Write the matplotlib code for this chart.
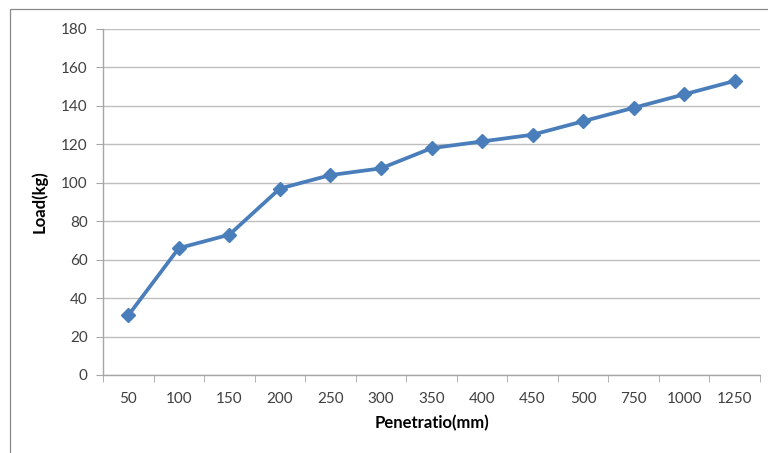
import matplotlib
matplotlib.use("Agg")
import matplotlib.pyplot as plt
from matplotlib.patches import Rectangle

# penetration categories (mm) and measured load (kg)
penetration = ["50", "100", "150", "200", "250", "300", "350",
               "400", "450", "500", "750", "1000", "1250"]
load = [31, 66, 73, 97, 104, 107.5, 118, 121.5, 125, 132, 139, 146, 153]

plt.rcParams["font.family"] = ["Lato", "DejaVu Sans"]

fig = plt.figure(figsize=(7.68, 4.53), dpi=100)
ax = fig.add_axes([103 / 768, 78 / 453, 657 / 768, 346 / 453])

# chart frame around everything
fig.patches.append(Rectangle((10 / 768, -0.1), 1.2, 1.1 - 9 / 453,
                             transform=fig.transFigure, fill=False,
                             edgecolor="#898989", linewidth=0.9))

x = range(len(penetration))
ax.plot(x, load, color="#4A7EBB", linewidth=2.7, marker="D",
        markersize=7.5, markeredgecolor="#4A7EBB", markerfacecolor="#4A7EBB",
        zorder=3)

ax.set_xlim(-0.5, len(penetration) - 0.5)
ax.set_ylim(0, 180)
ax.set_yticks(range(0, 181, 20))
ax.set_xticks(list(x))
ax.set_xticklabels(penetration)
ax.set_xticks([i - 0.5 for i in range(len(penetration) + 1)], minor=True)

ax.grid(axis="y", color="#BEBEBE", linewidth=1.0)
ax.set_axisbelow(True)
for side in ("top", "right"):
    ax.spines[side].set_visible(False)
for side in ("left", "bottom"):
    ax.spines[side].set_color("#A6A6A6")
    ax.spines[side].set_linewidth(1.0)

ax.tick_params(axis="x", which="major", length=0, pad=12,
               labelsize=11, labelcolor="#404040")
ax.tick_params(axis="x", which="minor", length=5, color="#A6A6A6")
ax.tick_params(axis="y", length=5, color="#A6A6A6", pad=6,
               labelsize=11, labelcolor="#404040")

ax.set_xlabel("Penetratio(mm)", fontsize=12, fontweight="bold", labelpad=7)
ax.set_ylabel("Load(kg)", fontsize=12, fontweight="bold", labelpad=10)

fig.savefig("out.png", dpi=100)
